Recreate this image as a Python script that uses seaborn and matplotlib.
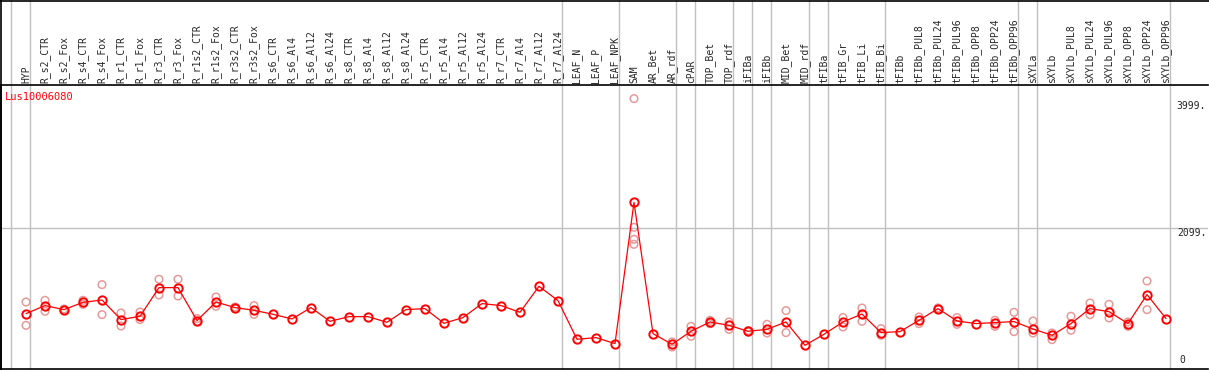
import numpy as np
import pandas as pd
import matplotlib
matplotlib.use("Agg")
import matplotlib.pyplot as plt
import matplotlib.transforms as mtransforms
from matplotlib.lines import Line2D
import seaborn as sns

categories = ["HYP", "R_s2_CTR", "R_s2_Fox", "R_s4_CTR", "R_s4_Fox", "R_r1_CTR", "R_r1_Fox",
              "R_r3_CTR", "R_r3_Fox", "R_r1s2_CTR", "R_r1s2_Fox", "R_r3s2_CTR", "R_r3s2_Fox",
              "R_s6_CTR", "R_s6_Al4", "R_s6_Al12", "R_s6_Al24", "R_s8_CTR", "R_s8_Al4",
              "R_s8_Al12", "R_s8_Al24", "R_r5_CTR", "R_r5_Al4", "R_r5_Al12", "R_r5_Al24",
              "R_r7_CTR", "R_r7_Al4", "R_r7_Al12", "R_r7_Al24", "LEAF_N", "LEAF_P", "LEAF_NPK",
              "SAM", "AR_Bet", "AR_rdf", "cPAR", "TOP_Bet", "TOP_rdf", "iFIBa", "iFIBb",
              "MID_Bet", "MID_rdf", "tFIBa", "tFIB_Gr", "tFIB_Li", "tFIB_Bi", "tFIBb",
              "tFIBb_PUL8", "tFIBb_PUL24", "tFIBb_PUL96", "tFIBb_OPP8", "tFIBb_OPP24",
              "tFIBb_OPP96", "sXYLa", "sXYLb", "sXYLb_PUL8", "sXYLb_PUL24", "sXYLb_PUL96",
              "sXYLb_OPP8", "sXYLb_OPP24", "sXYLb_OPP96"]

means = [818, 938, 878, 987, 1022, 729, 778, 1207, 1207, 714, 992, 908, 868,
         808, 738, 908, 703, 773, 773, 688, 878, 893, 673, 759, 968,
         938, 838, 1227, 1013, 434, 459, 370,
         2482, 519, 359, 554, 693, 643, 554, 583,
         693, 344, 509, 693, 812, 534, 549,
         718, 893, 708, 669, 684, 699, 588, 494, 669, 893, 848,
         669, 1103, 744]

replicates = [[992, 643], [1017, 853], [887, 868], [1017, 957], [1252, 803], [827, 633],
              [842, 729], [1332, 1097], [1332, 1082], [744, 699], [1067, 928], [917, 893],
              [938, 808],
              [], [], [], [], [], [], [], [], [], [], [], [], [], [], [], [],
              [], [], [],
              [4035, 2110, 1930, 1855], [], [394, 319], [628, 479], [718, 668], [693, 583],
              [564, 544], [658, 528],
              [863, 534], [], [], [759, 618], [902, 703], [594, 494], [],
              [768, 669], [903, 883], [759, 658], [], [718, 628], [838, 549],
              [708, 528], [528, 429], [778, 569], [977, 803], [957, 753],
              [693, 628], [1306, 878], []]

group_breaks = [-0.8, 0.23, 28.23, 31.23, 34.23, 35.23, 37.23, 38.23, 39.23, 41.23,
                42.23, 45.23, 52.23, 53.23, 60.23]
axis_labels = [(3999, "3999."), (2099, "2099."), (0, "0")]
title = "Lus10006080"

W, H = 1209, 370
fig = plt.figure(figsize=(W / 100, H / 100), dpi=100)
sns.set_style("white")
plt.rcParams["font.family"] = ["DejaVu Sans Mono"]

ax_left, ax_right, ax_top, ax_bottom = 1, 1208, 85, 369
ax = fig.add_axes([ax_left / W, 1 - ax_bottom / H, (ax_right - ax_left) / W,
                   (ax_bottom - ax_top) / H])

idx = np.arange(len(categories))
rep_x = [i for i, r in enumerate(replicates) for _ in r]
rep_y = [v for r in replicates for v in r]
rep_df = pd.DataFrame({"x": rep_x, "y": rep_y})
mean_df = pd.DataFrame({"x": idx, "y": means})

# gray vertical group separators (extend into the header)
ext = (ax_bottom - 0) / (ax_bottom - ax_top)
for b in group_breaks:
    ax.axvline(b, ymin=0, ymax=ext, color="#c0c0c0", lw=1.0, clip_on=False, zorder=0)
ax.axhline(2099, color="#c0c0c0", lw=1.0, zorder=0)

sns.scatterplot(data=rep_df, x="x", y="y", ax=ax, marker="o", s=30,
                facecolors="none", edgecolor="#e89a9a", linewidth=1.1, zorder=2)
sns.lineplot(data=mean_df, x="x", y="y", ax=ax, color="#ff0000", lw=0.9,
             marker="o", markersize=6, markerfacecolor="none",
             markeredgecolor="#ff0000", markeredgewidth=1.4,
             estimator=None, sort=False, zorder=3)

x_lo = (ax_left - 26) / 19
x_hi = (ax_right - 26) / 19
ax.set_xlim(x_lo, x_hi)
ax.set_ylim((368.3 - ax_bottom) / 0.06684, (368.3 - ax_top) / 0.06684)

ax.xaxis.tick_top()
ax.set_xticks(idx)
ax.set_xticklabels(categories, rotation=90, fontsize=7)
ax.tick_params(axis="x", length=0, pad=1.5)
ax.set_yticks([])
ax.set_xlabel("")
ax.set_ylabel("")
for s in ax.spines.values():
    s.set_color("black")
    s.set_linewidth(1.2)
ax.spines["right"].set_visible(False)

trans = mtransforms.blended_transform_factory(ax.transAxes, ax.transData)
for val, lab in axis_labels:
    if val == 0:
        ax.text(0.9765, 45, lab, transform=trans, ha="left", va="bottom", fontsize=7)
    else:
        ax.text(0.9985, val, lab, transform=trans, ha="right", va="top", fontsize=7)

ax.text(0.0035, 0.977, title, transform=ax.transAxes, ha="left", va="top",
        fontsize=7.5, color="#ff0000")

# outer frame: top and left edges of the figure
fig.add_artist(Line2D([0, 1], [1 - 0.6 / H, 1 - 0.6 / H], transform=fig.transFigure,
                      color="black", lw=1.2))
fig.add_artist(Line2D([1.2 / W, 1.2 / W], [0, 1], transform=fig.transFigure,
                      color="black", lw=1.2))

fig.savefig("out.png", dpi=100)
